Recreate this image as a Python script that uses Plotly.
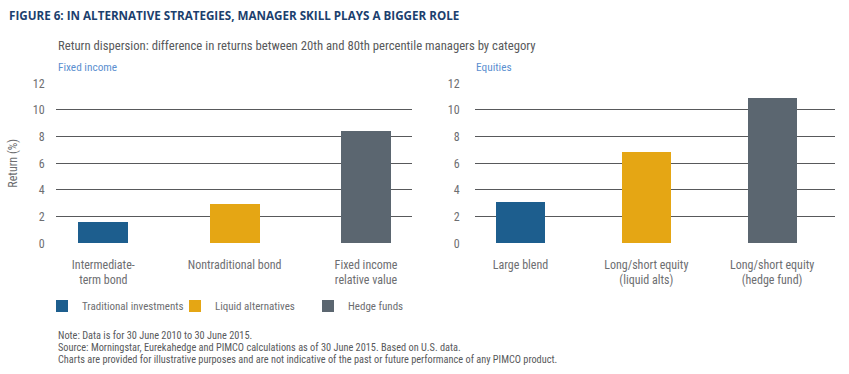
import plotly.graph_objects as go

W, H = 849, 374

# ---- data ----
fi_categories = ["Intermediate-<br>term bond", "Nontraditional bond", "Fixed income<br>relative value"]
fi_values = [1.6, 2.9, 8.4]
eq_categories = ["Large blend", "Long/short equity<br>(liquid alts)", "Long/short equity<br>(hedge fund)"]
eq_values = [3.1, 6.85, 10.9]
series_names = ["Traditional investments", "Liquid alternatives", "Hedge funds"]
series_colors = ["#1d5e8e", "#e5a614", "#5b6670"]
y_ticks = [0, 2, 4, 6, 8, 10, 12]
note_lines = [
    "Note: Data is for 30 June 2010 to 30 June 2015.",
    "Source: Morningstar, Eurekahedge and PIMCO calculations as of 30 June 2015. Based on U.S. data.",
    "Charts are provided for illustrative purposes and are not indicative of the past or future performance of any PIMCO product.",
]

FONT = "Liberation Sans Narrow, Arial Narrow, Roboto Condensed, Roboto, sans-serif"
GRID = "#58595b"
TXT = "#6d6e71"

def px(x):
    return x / W

def py(y):
    return 1 - y / H

fig = go.Figure()
for i, name in enumerate(series_names):
    fig.add_trace(go.Bar(
        x=[fi_categories[i]], y=[fi_values[i]], name=name,
        marker=dict(color=series_colors[i], line=dict(width=0)),
        width=0.38, xaxis="x", yaxis="y", legendgroup=name, showlegend=True,
    ))
    fig.add_trace(go.Bar(
        x=[eq_categories[i]], y=[eq_values[i]], name=name,
        marker=dict(color=series_colors[i], line=dict(width=0)),
        width=0.39, xaxis="x2", yaxis="y2", legendgroup=name, showlegend=False,
    ))

ydom = [py(243.3), py(83.3)]
common_x = dict(type="category", showgrid=False, zeroline=False, showline=False,
                ticks="outside", ticklen=10, tickcolor="rgba(0,0,0,0)", automargin=False,
                tickfont=dict(family=FONT, size=12, color=TXT), fixedrange=True)
common_y = dict(range=[0, 12], tickvals=y_ticks, showgrid=True, gridcolor=GRID, gridwidth=1,
                zeroline=False, showline=False, ticks="outside", tickcolor="rgba(0,0,0,0)",
                automargin=False, fixedrange=True,
                tickfont=dict(family=FONT, size=12, color=TXT), domain=ydom)

fig.update_layout(
    width=W, height=H,
    margin=dict(l=0, r=0, t=0, b=0, autoexpand=False),
    paper_bgcolor="white", plot_bgcolor="white",
    barmode="overlay",
    font=dict(family=FONT, color=TXT),
    xaxis=dict(common_x, domain=[px(56), px(412)], range=[-0.36, 2.35], anchor="y",
               categoryorder="array", categoryarray=fi_categories),
    xaxis2=dict(common_x, domain=[px(475), px(835)], range=[-0.362, 2.50], anchor="y2",
                categoryorder="array", categoryarray=eq_categories),
    yaxis=dict(common_y, anchor="x", ticklen=8,
               title=dict(text="Return (%)", font=dict(family=FONT, size=12, color=TXT), standoff=12)),
    yaxis2=dict(common_y, anchor="x2", ticklen=12),
    legend=dict(orientation="h", x=px(42), y=py(306), xanchor="left", yanchor="middle",
                font=dict(family=FONT, size=11, color=TXT), bgcolor="rgba(0,0,0,0)",
                entrywidth=88, entrywidthmode="pixels", traceorder="normal"),
    bargap=0,
)

annotations = [
    dict(text="<b>FIGURE 6: IN ALTERNATIVE STRATEGIES, MANAGER SKILL PLAYS A BIGGER ROLE</b>",
         x=px(7), y=py(15), xanchor="left", yanchor="middle",
         font=dict(family="Open Sans, sans-serif", size=11.65, color="#1c3f6e")),
    dict(text="Return dispersion: difference in returns between 20th and 80th percentile managers by category",
         x=px(56), y=py(45), xanchor="left", yanchor="middle",
         font=dict(family=FONT, size=12.7, color="#58595b")),
    dict(text="Fixed income", x=px(56), y=py(67), xanchor="left", yanchor="middle",
         font=dict(family=FONT, size=11.3, color="#5b8fd0")),
    dict(text="Equities", x=px(474), y=py(67), xanchor="left", yanchor="middle",
         font=dict(family=FONT, size=11.3, color="#5b8fd0")),
]
for k, line in enumerate(note_lines):
    annotations.append(dict(text=line, x=px(56), y=py(335 + 12 * k), xanchor="left", yanchor="middle",
                            font=dict(family=FONT, size=10.3, color="#58595b")))
for a in annotations:
    a.update(xref="paper", yref="paper", showarrow=False)
fig.update_layout(annotations=annotations)

fig.write_html("out.html", config={"displayModeBar": False},
               post_script="document.body.style.margin='0px';")
